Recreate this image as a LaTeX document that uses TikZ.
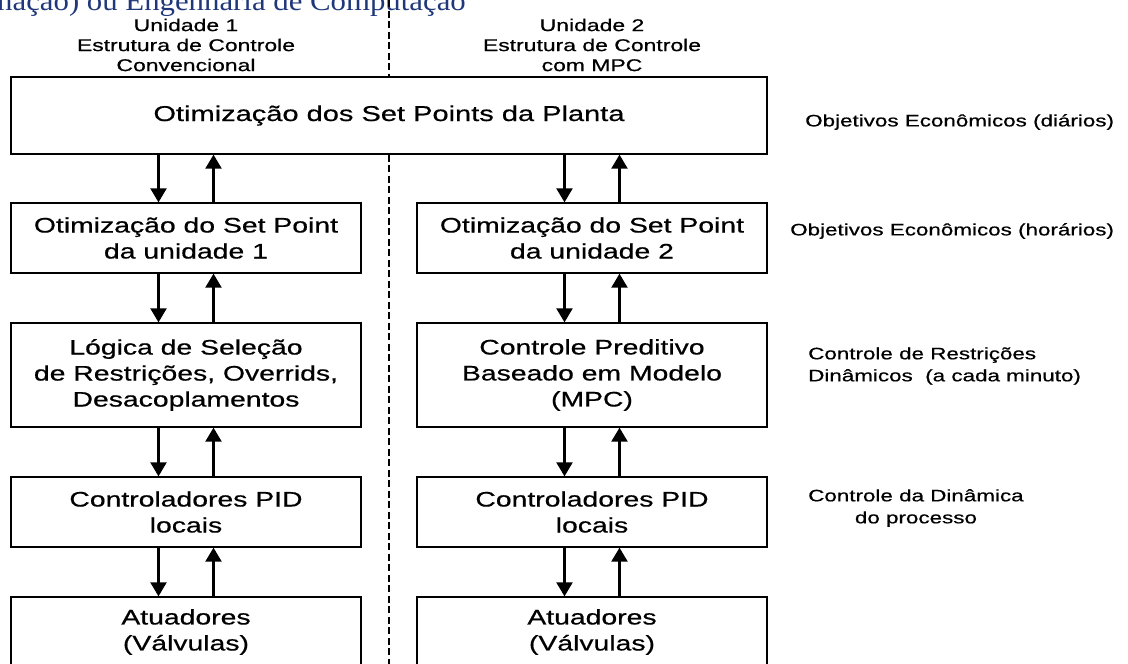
\documentclass[tikz,border=0pt]{standalone}
\usepackage{fontspec}
\setmainfont{Liberation Sans}[FakeStretch=1.35, FakeBold=0.6]
\newfontfamily\headserif{Liberation Serif}[FakeStretch=1.1]
\usetikzlibrary{arrows.meta,positioning}
\definecolor{headblue}{RGB}{32,56,122}
\tikzset{
	unitbox/.style={draw, line width=1.3pt, minimum width=350pt, minimum height=70pt, align=center, inner sep=2pt, font=\fontsize{21}{26}\selectfont},
	flow/.style={line width=2.2pt, -{Triangle[width=16pt,length=14pt]}},
	divider/.style={line width=1.3pt, dash pattern=on 7pt off 3.5pt},
	headtext/.style={align=center, inner sep=0pt, font=\fontsize{17}{20}\selectfont},
	sidetext/.style={anchor=west, inner sep=0pt, font=\fontsize{16.6}{22}\selectfont}
}

\begin{document}
\begin{tikzpicture}[x=1pt, y=-1pt]
			%%%%% START %%%%%
			\useasboundingbox (0,0) rectangle (1128,664);
			\clip (0,0) rectangle (1128,664);
			
			\node[anchor=base west, inner sep=0pt, text=headblue, font=\headserif\fontsize{28}{32}\selectfont] (pagehead) at (-3,10) {nação) ou Engenharia de Computação};
			
			\node[headtext] (headone) at (186,45) {Unidade 1\\Estrutura de Controle\\Convencional};
			\node[headtext] (headtwo) at (592,45) {Unidade 2\\Estrutura de Controle\\com MPC};
			
			\node[unitbox, minimum width=756pt, minimum height=77pt, font=\fontsize{21.5}{26}\selectfont] (plant) at (389,115.5) {Otimização dos Set Points da Planta};
			
			\node[unitbox] (spone) at (186,238) {Otimização do Set Point\\da unidade 1};
			\node[unitbox] (sptwo) at (592,238) {Otimização do Set Point\\da unidade 2};
			
			\node[unitbox, minimum height=104pt] (logic) at (186,375) {Lógica de Seleção\\de Restrições, Overrids,\\Desacoplamentos};
			\node[unitbox, minimum height=104pt] (mpc) at (592,375) {Controle Preditivo\\Baseado em Modelo\\(MPC)};
			
			\node[unitbox] (pidone) at (186,512) {Controladores PID\\locais};
			\node[unitbox] (pidtwo) at (592,512) {Controladores PID\\locais};
			
			\node[unitbox] (valone) at (186,632) {Atuadores\\(Válvulas)};
			\node[unitbox] (valtwo) at (592,632) {Atuadores\\(Válvulas)};
			
			\coordinate (divtop) at (389,0);
			\coordinate (divbot) at (389,664);
			\draw[divider] (divtop) -- (plant.north);
			\draw[divider] (plant.south) -- (divbot);
			
			\node[sidetext] (daily) at (805,122) {Objetivos Econômicos (diários)};
			\node[sidetext] (hourly) at (790,231) {Objetivos Econômicos (horários)};
			\node[sidetext, align=left] (minute) at (808,366) {Controle de Restrições\\Dinâmicos\ \ (a cada minuto)};
			\node[sidetext, align=center] (dynamic) at (808,508) {Controle da Dinâmica\\do processo};
			
			% unidade 1
			\draw[flow] ([xshift=-27.5pt]spone.north |- plant.south) -- ([xshift=-27.5pt]spone.north);
			\draw[flow] ([xshift=27.5pt]spone.north) -- ([xshift=27.5pt]spone.north |- plant.south);
			\draw[flow] ([xshift=-27.5pt]spone.south) -- ([xshift=-27.5pt]logic.north);
			\draw[flow] ([xshift=27.5pt]logic.north) -- ([xshift=27.5pt]spone.south);
			\draw[flow] ([xshift=-27.5pt]logic.south) -- ([xshift=-27.5pt]pidone.north);
			\draw[flow] ([xshift=27.5pt]pidone.north) -- ([xshift=27.5pt]logic.south);
			\draw[flow] ([xshift=-27.5pt]pidone.south) -- ([xshift=-27.5pt]valone.north);
			\draw[flow] ([xshift=27.5pt]valone.north) -- ([xshift=27.5pt]pidone.south);
			
			% unidade 2
			\draw[flow] ([xshift=-27.5pt]sptwo.north |- plant.south) -- ([xshift=-27.5pt]sptwo.north);
			\draw[flow] ([xshift=27.5pt]sptwo.north) -- ([xshift=27.5pt]sptwo.north |- plant.south);
			\draw[flow] ([xshift=-27.5pt]sptwo.south) -- ([xshift=-27.5pt]mpc.north);
			\draw[flow] ([xshift=27.5pt]mpc.north) -- ([xshift=27.5pt]sptwo.south);
			\draw[flow] ([xshift=-27.5pt]mpc.south) -- ([xshift=-27.5pt]pidtwo.north);
			\draw[flow] ([xshift=27.5pt]pidtwo.north) -- ([xshift=27.5pt]mpc.south);
			\draw[flow] ([xshift=-27.5pt]pidtwo.south) -- ([xshift=-27.5pt]valtwo.north);
			\draw[flow] ([xshift=27.5pt]valtwo.north) -- ([xshift=27.5pt]pidtwo.south);
			
			%%%%% END %%%%%
\end{tikzpicture}
\end{document}
